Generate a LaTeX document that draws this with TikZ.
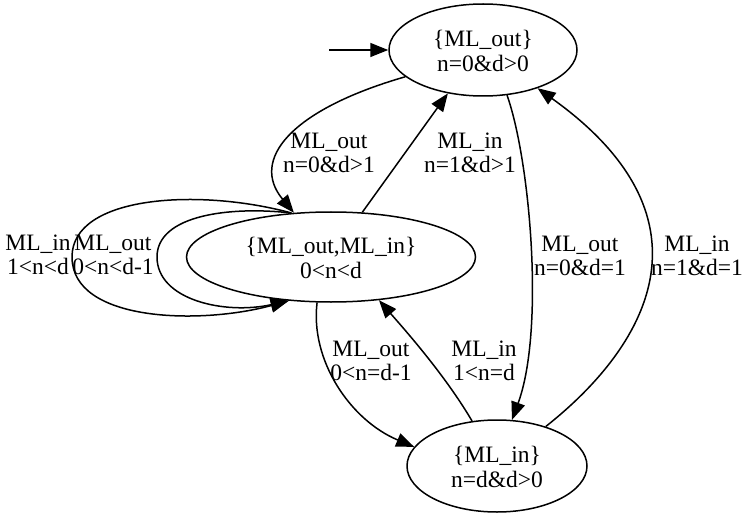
\documentclass[tikz,border=0pt]{standalone}
\usepackage{fontspec}
\setmainfont{Liberation Serif}
\usetikzlibrary{shapes.geometric,arrows.meta}
\begin{document}
\begin{tikzpicture}[x=1pt,y=-1pt,
  every node/.style={font=\fontsize{23.5}{24.5}\selectfont},
  state/.style={draw,ellipse,inner sep=0pt,line width=1.5pt,align=center},
  lbl/.style={align=center,inner sep=0pt},
  edge/.style={line width=1.5pt,-{Triangle[length=18pt,width=14pt]}}]
\useasboundingbox (0,0) rectangle (744,513);
\node[state,minimum width=188,minimum height=92] (top) at (483,50) {};
\node[lbl] (toptxt) at (483,51) {\{ML\_out\}\\n=0\&d>0};
\node[state,minimum width=289,minimum height=90] (mid) at (331,257) {};
\node[lbl] (midtxt) at (331,258) {\{ML\_out,ML\_in\}\\0<n<d};
\node[state,minimum width=180,minimum height=92] (bot) at (497,466) {};
\node[lbl] (bottxt) at (497,467) {\{ML\_in\}\\n=d\&d>0};
\coordinate (init) at (329,50);
\draw[edge] (init) -- (top);
\draw[edge] (top.199) .. controls (290,110) and (250,160) .. (mid.130);
\draw[edge] (mid.55) -- (top.231);
\draw[edge] (top.298.5) .. controls (530,160) and (545,330) .. (bot.72);
\draw[edge] (bot.39) .. controls (655,340) and (715,215) .. (top.325);
\draw[edge] (mid.253) .. controls (310,360) and (350,420) .. (bot.167);
\draw[edge] (bot.119) .. controls (445,375) and (405,330) .. (mid.318);
\draw[edge] (mid.132) .. controls (200,188) and (72,195) .. (72,257) .. controls (72,322) and (200,325) .. (mid.226);
\draw[edge] (mid.132) .. controls (230,206) and (157,215) .. (157,257) .. controls (157,300) and (225,315) .. (mid.226);
\node[lbl] (l2) at (329,153) {ML\_out\\n=0\&d>1};
\node[lbl] (l3) at (470,153) {ML\_in\\n=1\&d>1};
\node[lbl] (l4) at (580,256) {ML\_out\\n=0\&d=1};
\node[lbl] (l5) at (697,256) {ML\_in\\n=1\&d=1};
\node[lbl] (l6) at (371,361) {ML\_out\\0<n=d-1};
\node[lbl] (l7) at (484,361) {ML\_in\\1<n=d};
\node[lbl] (l8) at (38,255) {ML\_in\\1<n<d};
\node[lbl] (l9) at (113,255) {ML\_out\\0<n<d-1};
\end{tikzpicture}
\end{document}
